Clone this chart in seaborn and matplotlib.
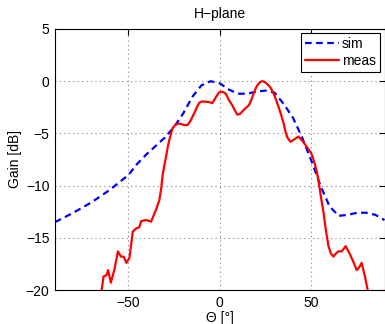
import numpy as np
import pandas as pd
import matplotlib
matplotlib.use("Agg")
import matplotlib.pyplot as plt
import seaborn as sns

# Simulated H-plane pattern
sim_theta = [-90, -80, -70, -60, -50, -45, -40, -35, -30, -25, -20, -15, -10, -5,
             0, 5, 10, 15, 20, 25, 30, 35, 40, 45, 50, 55, 60, 65, 70, 75, 80, 85, 90]
sim_gain = [-13.5, -12.6, -11.6, -10.4, -9.0, -7.9, -7.0, -6.2, -5.4, -4.4, -3.1, -1.5,
            -0.4, 0.0, -0.2, -0.8, -1.2, -1.2, -1.0, -0.9, -1.1, -2.2, -3.5, -5.4,
            -7.6, -10.0, -12.0, -12.9, -12.8, -12.6, -12.6, -12.8, -13.3]

# Measured H-plane pattern
meas_theta = [-67, -64.5, -63.5, -62, -61, -59.5, -57.5, -55.6, -54, -52.5, -51, -49.3,
              -47.5, -45.7, -44, -42.9, -40.2, -37.5, -34.8, -33, -32, -31.2, -30.2,
              -29.3, -28.4, -27.5, -26.6, -25.8, -24, -22, -19.5, -17.6, -16, -14.9,
              -13.5, -12.5, -11.3, -10, -8.5, -6, -4, -2, -0.5, 0.5, 2, 3.3, 5, 6.8,
              8.3, 9.6, 11, 12.3, 14, 15.9, 17, 18, 19.6, 20.5, 21.4, 22.3, 23.2, 24.3,
              25.5, 26.6, 27.7, 28.6, 29.5, 30.8, 32.2, 33.5, 35, 36, 37, 38.6, 40.5,
              43, 45.5, 47.6, 50, 51.2, 52.2, 53.2, 54, 55.3, 56.7, 58, 59.4, 60.7,
              62.1, 63.5, 64.8, 66.6, 68.8, 71.2, 73, 74.8, 76.3, 77.5, 79.3, 80.8, 82]
meas_gain = [-21.5, -20.0, -18.7, -18.6, -18.1, -19.3, -18.0, -16.3, -16.8, -16.8, -17.4,
             -16.9, -14.4, -14.1, -14.0, -13.4, -13.3, -13.45, -12.3, -11.4, -10.3, -9.0,
             -8.0, -7.2, -6.3, -5.6, -5.0, -4.5, -4.15, -4.05, -4.2, -4.2, -3.8, -3.4,
             -2.9, -2.5, -2.1, -1.95, -1.95, -2.0, -2.1, -1.5, -1.1, -1.0, -1.05, -1.2,
             -1.8, -2.3, -2.8, -3.2, -3.15, -2.9, -2.6, -2.3, -1.9, -1.4, -0.7, -0.4,
             -0.2, -0.05, 0.0, -0.05, -0.2, -0.4, -0.6, -0.9, -1.2, -1.8, -2.5, -3.2,
             -4.1, -4.9, -5.4, -5.8, -5.6, -5.3, -5.8, -6.3, -6.9, -7.5, -8.1, -8.8,
             -9.6, -11.1, -12.6, -14.3, -15.8, -16.5, -16.8, -16.5, -16.3, -16.3, -15.8,
             -16.6, -17.3, -18.1, -17.8, -17.4, -18.7, -20.0, -21.5]

x_ticks = [-50, 0, 50]
y_ticks = [-20, -15, -10, -5, 0, 5]

sns.set_style("white")
plt.rcParams["font.family"] = ["Liberation Sans", "DejaVu Sans"]
plt.rcParams["font.size"] = 10
plt.rcParams["text.color"] = "black"
plt.rcParams["axes.labelcolor"] = "black"

fig = plt.figure(figsize=(3.85, 3.24), dpi=100)
ax = fig.add_axes([55 / 385, 1 - 290 / 324, 329.5 / 385, 261 / 324])

df_sim = pd.DataFrame({"theta": sim_theta, "gain": sim_gain})
df_meas = pd.DataFrame({"theta": meas_theta, "gain": meas_gain})

sns.lineplot(data=df_sim, x="theta", y="gain", ax=ax, color="#0000ff",
             linewidth=1.6, label="sim")
ax.lines[-1].set_dashes((3, 2))
sns.lineplot(data=df_meas, x="theta", y="gain", ax=ax, color="#ff0000",
             linewidth=1.6, label="meas")

ax.set_xlim(-90, 90)
ax.set_ylim(-20, 5)
ax.set_xticks(x_ticks)
ax.set_yticks(y_ticks)
ax.set_xticklabels([f"{t}".replace("-", "\u2212") for t in x_ticks])
ax.set_yticklabels([f"{t}".replace("-", "\u2212") for t in y_ticks])

ax.grid(True, linestyle=(0, (1, 3)), color="#808080", linewidth=0.8)
ax.tick_params(direction="in", length=4, width=0.8, top=True, right=True,
               labelsize=10, colors="black", pad=4)
for s in ax.spines.values():
    s.set_color("black")
    s.set_linewidth(0.8)

ax.set_title("H\u2212plane", fontsize=10, pad=8, color="black")
ax.set_xlabel("\u0398 [\u00b0]", fontsize=10, labelpad=1)
ax.set_ylabel("Gain [dB]", fontsize=10, labelpad=3)

leg = ax.legend(loc="upper right", fontsize=10, frameon=True, fancybox=False,
                edgecolor="black", framealpha=1, borderaxespad=0.3,
                handlelength=2.4, borderpad=0.3, labelspacing=0.2,
                handletextpad=0.25)
leg.get_frame().set_linewidth(0.8)
for txt in leg.get_texts():
    txt.set_color("black")

fig.savefig("out.png", dpi=100)
